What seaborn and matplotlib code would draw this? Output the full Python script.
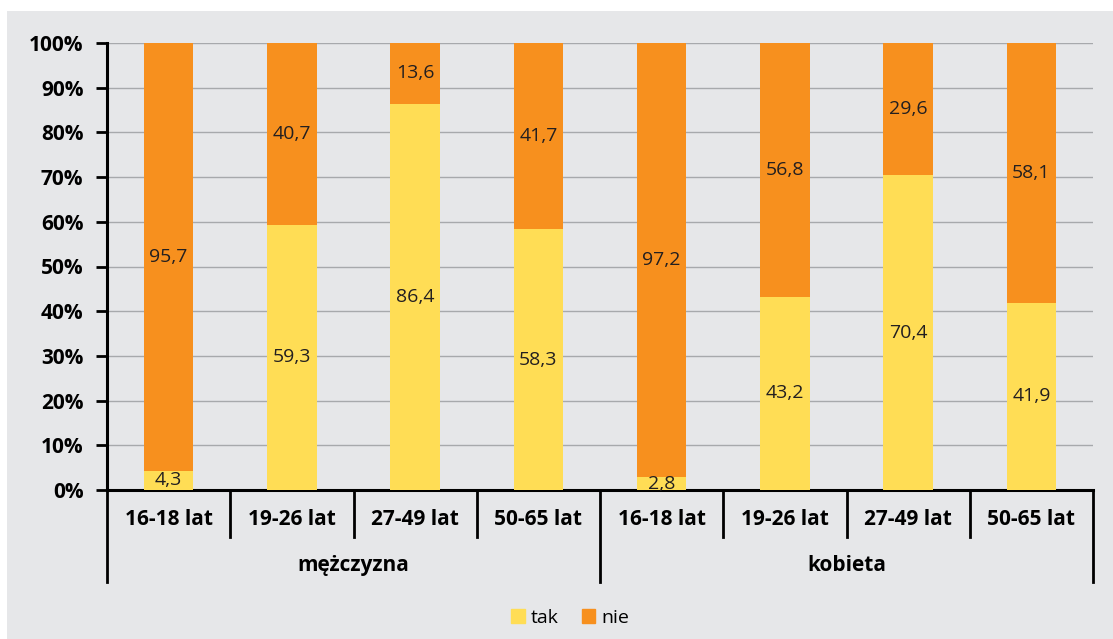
import seaborn as sns
import matplotlib.pyplot as plt
import pandas as pd
from matplotlib.patches import Patch

plt.rcParams['font.family'] = ['Open Sans', 'DejaVu Sans']

plec = ["mężczyzna", "kobieta"]
wiek = ["16-18 lat", "19-26 lat", "27-49 lat", "50-65 lat"]
tak = [4.3, 59.3, 86.4, 58.3, 2.8, 43.2, 70.4, 41.9]
nie = [95.7, 40.7, 13.6, 41.7, 97.2, 56.8, 29.6, 58.1]

kat = [p + " " + w for p in plec for w in wiek]
df = pd.DataFrame({"kat": kat, "tak": tak, "nie": nie})
df["suma"] = df["tak"] + df["nie"]

ZOLTY = "#FFDD55"
POMAR = "#F7901E"
TLO = "#E6E7E9"

fig = plt.figure(figsize=(11.13, 6.39), dpi=100)
fig.patch.set_facecolor("white")
fig.patches.append(plt.Rectangle((7 / 1113, 0), 1, 1 - 11 / 639, transform=fig.transFigure,
                                 facecolor=TLO, edgecolor="none", zorder=-10))
ax = fig.add_axes([107 / 1113, 1 - 490 / 639, 986 / 1113, 447 / 639])
ax.set_facecolor(TLO)

sns.barplot(data=df, x="kat", y="suma", color=POMAR, width=0.4, saturation=1, ax=ax, zorder=3)
sns.barplot(data=df, x="kat", y="tak", color=ZOLTY, width=0.4, saturation=1, ax=ax, zorder=3)

for i, (t, n) in enumerate(zip(tak, nie)):
    ax.text(i, t / 2, f"{t:.1f}".replace(".", ","), ha="center", va="center",
            fontsize=14, color="#231F20", zorder=5)
    ax.text(i, t + n / 2, f"{n:.1f}".replace(".", ","), ha="center", va="center",
            fontsize=14, color="#231F20", zorder=5)

ax.set_ylim(0, 100)
ax.set_xlim(-0.5, 7.5)
ax.set_yticks(range(0, 101, 10))
ax.set_yticklabels([f"{v}%" for v in range(0, 101, 10)], fontsize=15, fontweight="bold")
ax.yaxis.grid(True, color="#A7A9AC", lw=1, zorder=0)
ax.set_axisbelow(True)
ax.tick_params(axis="y", length=8, width=2, color="black", pad=9)
ax.set_xticks([])
ax.set_xlabel("")
ax.set_ylabel("")
for s in ["top", "right"]:
    ax.spines[s].set_visible(False)
for s in ["left", "bottom"]:
    ax.spines[s].set_linewidth(2.2)
    ax.spines[s].set_color("black")

tr = ax.get_xaxis_transform()
for i in range(9):
    x = i - 0.5
    dol = -0.206 if i in (0, 4, 8) else -0.105
    ax.plot([x, x], [0, dol], color="black", lw=2, transform=tr, clip_on=False)
for i, w in enumerate(wiek * 2):
    ax.text(i, -0.067, w, ha="center", va="center", fontsize=15, fontweight="bold",
            transform=tr)
for j, p in enumerate(plec):
    ax.text(j * 4 + 1.5, -0.168, p, ha="center", va="center", fontsize=15,
            fontweight="bold", transform=tr)

fig.legend(handles=[Patch(color=ZOLTY, label="tak"), Patch(color=POMAR, label="nie")],
           loc="center", bbox_to_anchor=(570 / 1113, 1 - 618 / 639), ncol=2, frameon=False,
           fontsize=14, handlelength=0.7, handleheight=0.7, handletextpad=0.3, columnspacing=1.2)

fig.savefig("out.png", dpi=100, facecolor=fig.get_facecolor())
